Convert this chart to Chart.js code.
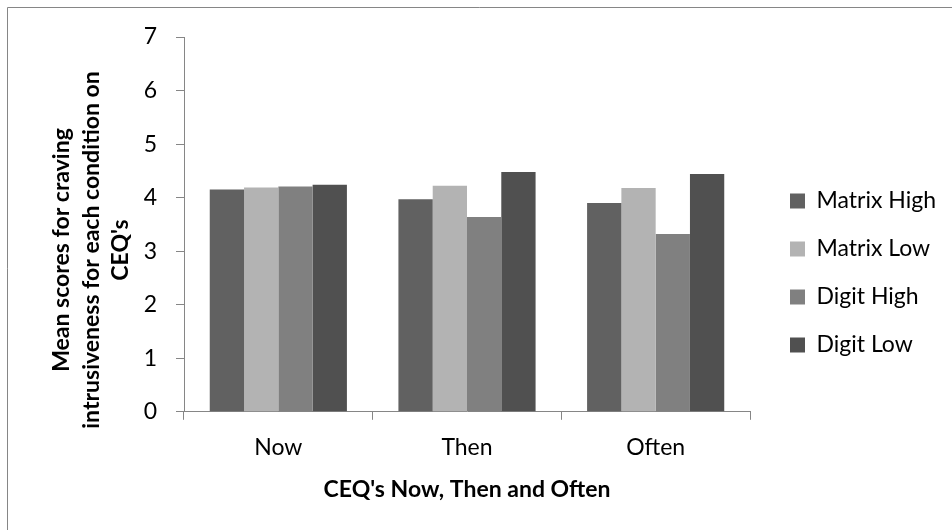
<!DOCTYPE html>
<html><head><meta charset="utf-8">
<script src="https://cdn.jsdelivr.net/npm/chart.js@4"></script>
<style>html,body{margin:0;padding:0;background:#fff;} #wrap{width:952px;height:530px;position:relative;}</style>
</head><body><div id="wrap"><canvas id="c" width="952" height="530"></canvas></div>
<script>
const categories = ['Now', 'Then', 'Often'];
const seriesNames = ['Matrix High', 'Matrix Low', 'Digit High', 'Digit Low'];
const matrixHigh = [4.15, 3.97, 3.90];
const matrixLow = [4.19, 4.22, 4.18];
const digitHigh = [4.21, 3.64, 3.32];
const digitLow = [4.24, 4.48, 4.44];
const seriesColors = ['#616161', '#b3b3b3', '#808080', '#505050'];
const yMin = 0, yMax = 7, yStep = 1;
const yTitleLines = ['Mean scores for craving', 'intrusiveness for each condition on', "CEQ's"];
const xTitle = "CEQ's Now, Then and Often";

const FONT = 'Lato, "Open Sans", sans-serif';
const FS = 23;
const axisColor = '#868686';

const frame = {
  id: 'frame',
  afterDraw(chart) {
    const ctx = chart.ctx;
    ctx.save();
    ctx.strokeStyle = axisColor;
    ctx.lineWidth = 1;
    ctx.beginPath();
    ctx.moveTo(7.5, 530); ctx.lineTo(7.5, 7.5); ctx.lineTo(952, 7.5);
    ctx.stroke();
    // rotated y title
    ctx.fillStyle = '#000';
    ctx.font = 'bold ' + FS + 'px ' + FONT;
    ctx.textAlign = 'center';
    ctx.textBaseline = 'middle';
    const xs = [62, 91.5, 121];
    const cy = 250;
    yTitleLines.forEach((t, i) => {
      ctx.save();
      ctx.translate(xs[i], cy);
      ctx.rotate(-Math.PI / 2);
      ctx.fillText(t, 0, 0);
      ctx.restore();
    });
    ctx.restore();
  }
};

const seriesData = [matrixHigh, matrixLow, digitHigh, digitLow];

new Chart(document.getElementById('c'), {
  type: 'bar',
  data: {
    labels: categories,
    datasets: seriesNames.map((n, i) => ({
      label: n,
      data: seriesData[i],
      backgroundColor: seriesColors[i],
      borderWidth: 0,
      categoryPercentage: 0.727,
      barPercentage: 1.0
    }))
  },
  options: {
    responsive: false,
    animation: false,
    devicePixelRatio: 1,
    layout: { padding: { left: 0, top: 37, right: 12, bottom: 23 } },
    plugins: {
      tooltip: { enabled: false },
      legend: {
        position: 'right',
        align: 'start',
        maxWidth: 175,
        title: { display: true, text: ' ', font: { size: 10 }, padding: { top: 115.5, bottom: 0 } },
        labels: {
          boxWidth: 15, boxHeight: 15, padding: 25,
          color: '#000',
          font: { family: FONT, size: FS }
        }
      }
    },
    scales: {
      x: {
        offset: true,
        grid: { display: true, drawOnChartArea: false, drawTicks: true, tickLength: 8, color: axisColor, offset: true },
        border: { display: true, color: axisColor, width: 1 },
        ticks: { color: '#000', padding: 14, font: { family: FONT, size: FS } },
        title: { display: true, text: xTitle, color: '#000', font: { family: FONT, size: FS, weight: 'bold' }, padding: { top: 0, bottom: 4 } }
      },
      y: {
        min: yMin, max: yMax,
        ticks: { stepSize: yStep, color: '#000', padding: 19, font: { family: FONT, size: FS } },
        grid: { display: true, drawOnChartArea: false, drawTicks: true, tickLength: 8, color: axisColor },
        border: { display: true, color: axisColor, width: 1 },
        afterFit(scale) { scale.width = 184; }
      },
      spacer: {
        type: 'linear', position: 'right', display: true,
        grid: { display: false }, border: { display: false },
        ticks: { display: false },
        afterFit(scale) { scale.width = 15; }
      }
    }
  },
  plugins: [frame]
});
</script></body></html>
